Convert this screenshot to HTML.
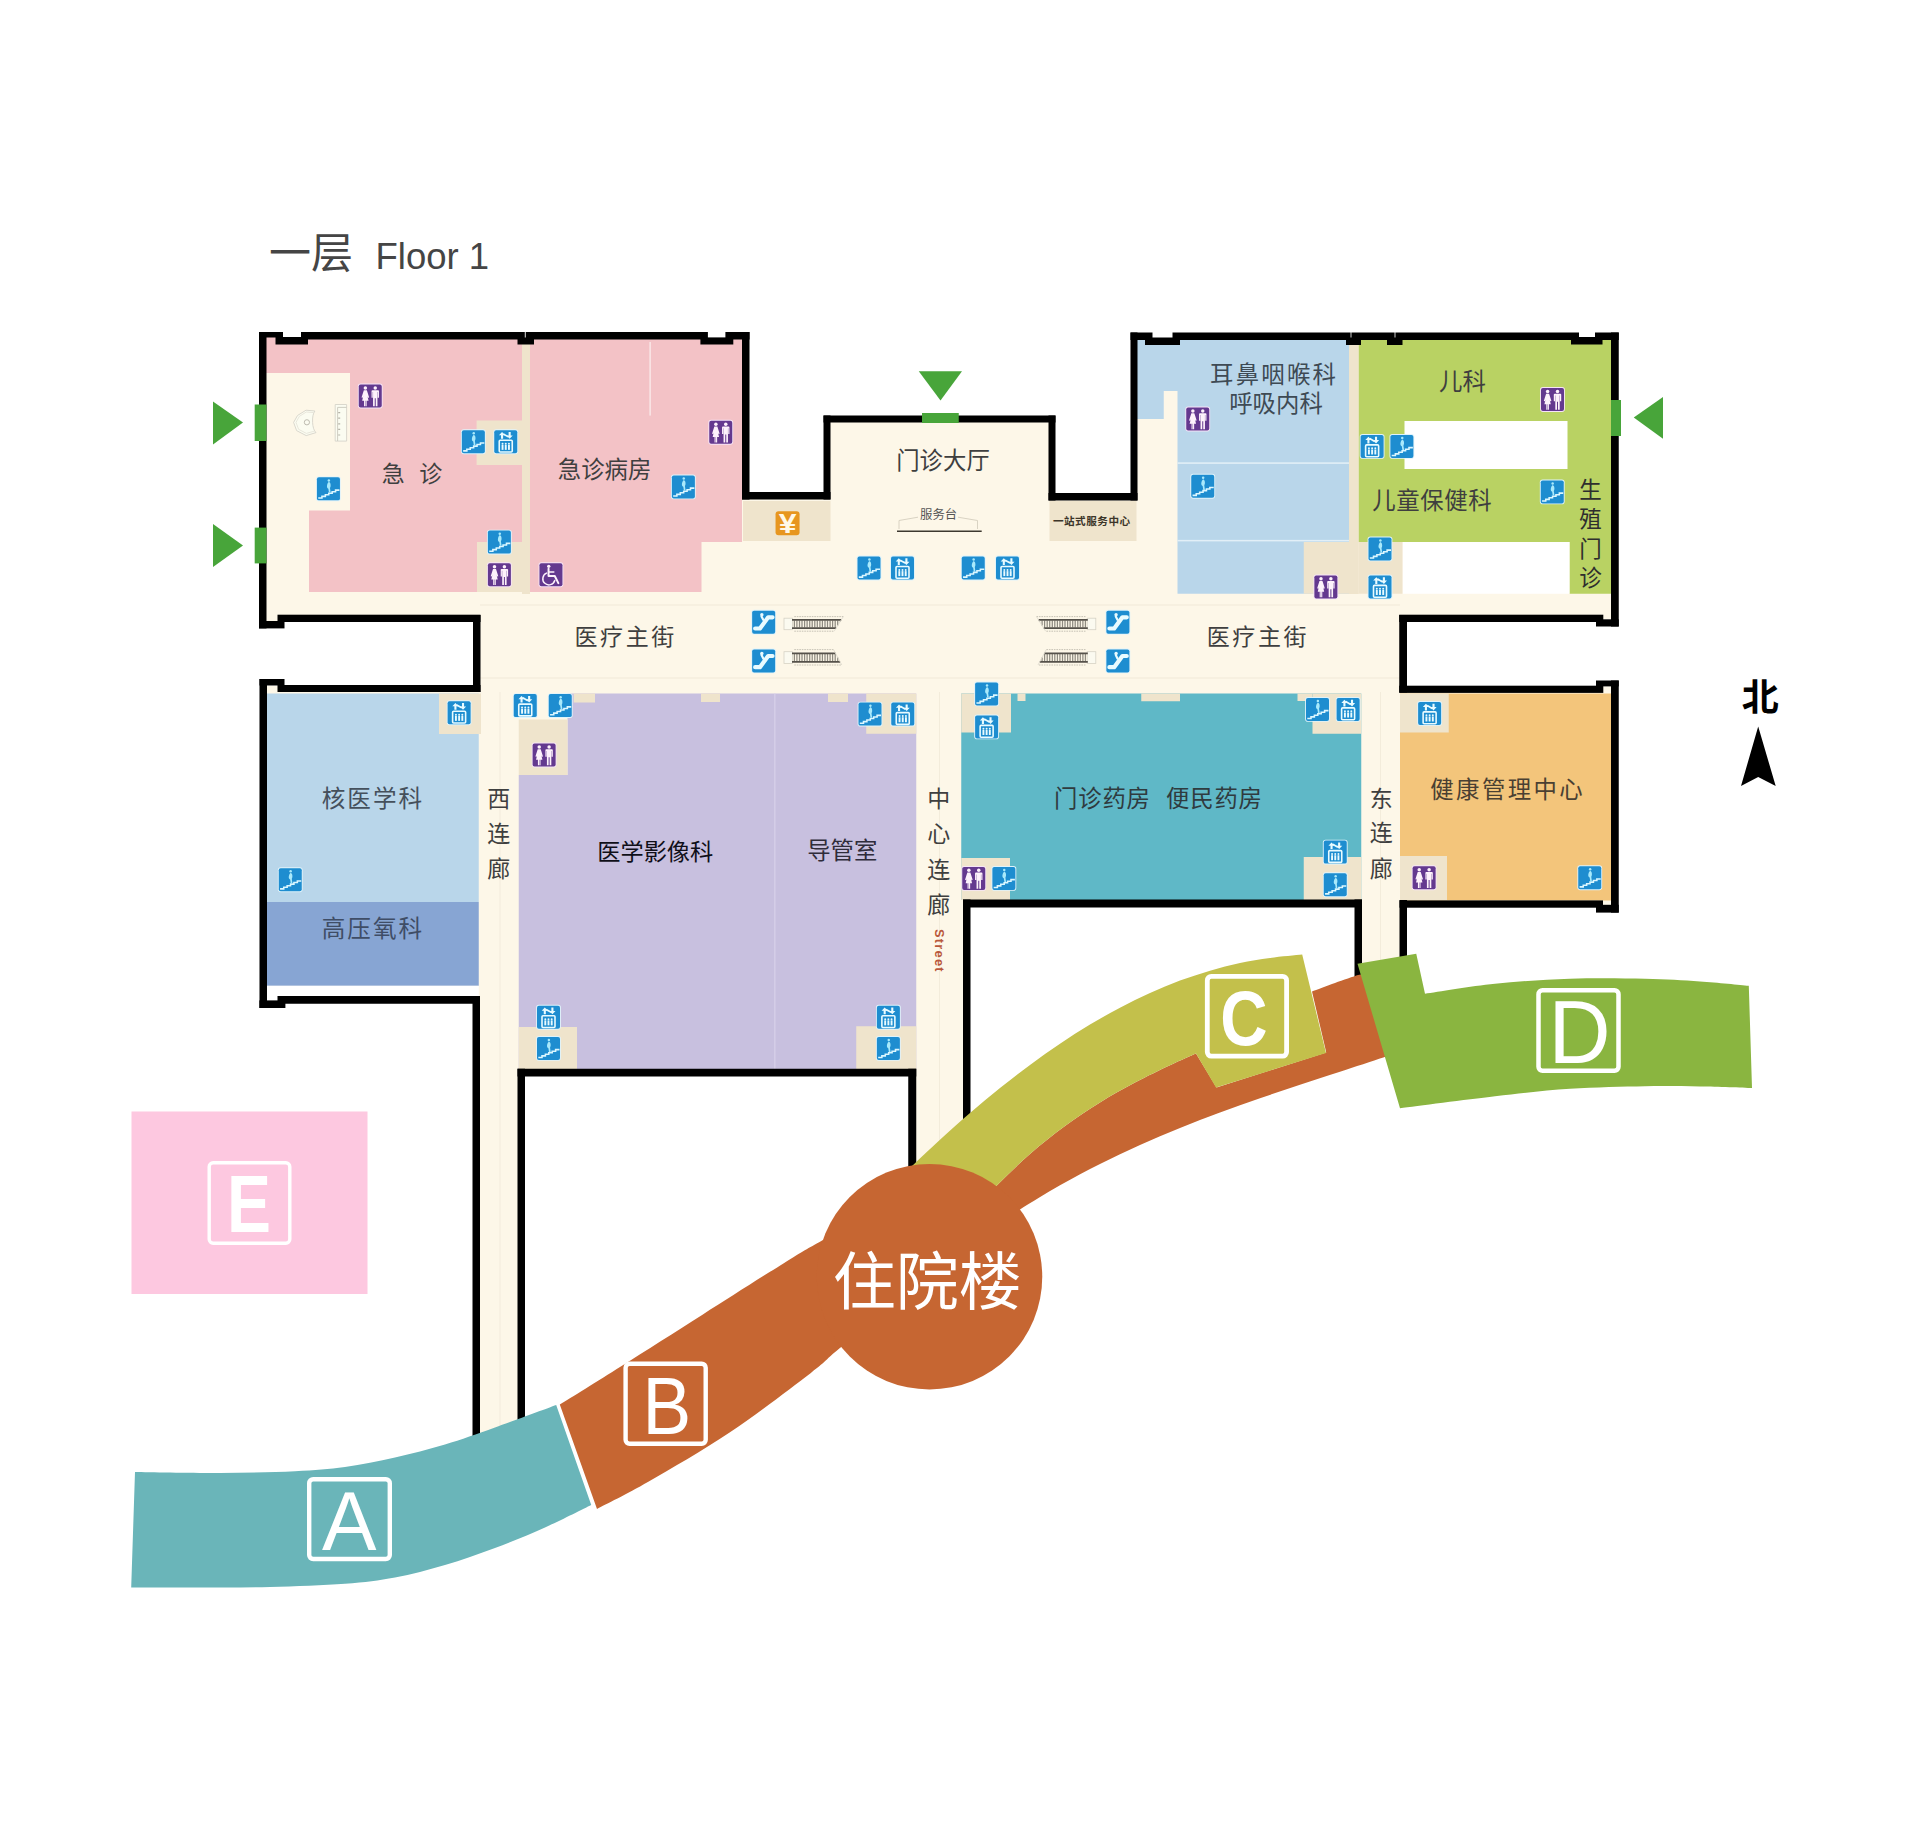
<!DOCTYPE html>
<html lang="zh-CN">
<head>
<meta charset="utf-8">
<title>一层 Floor 1</title>
<style>
html,body{margin:0;padding:0;background:#fff;}
body{width:1920px;height:1841px;overflow:hidden;font-family:"Liberation Sans","Noto Sans CJK SC",sans-serif;}
svg{display:block;}
</style>
</head>
<body>
<svg width="1920" height="1841" viewBox="0 0 1920 1841">
<rect width="1920" height="1841" fill="#fff"/>
<g id="floor">
<rect x="262" y="336" width="484" height="285.5" fill="#fdf7e8" />
<rect x="476" y="596" width="928" height="100" fill="#fdf7e8" />
<rect x="746" y="496" width="388" height="104" fill="#fdf7e8" />
<rect x="827" y="419" width="225" height="81" fill="#fdf7e8" />
<rect x="1134" y="336" width="481" height="283" fill="#fdf7e8" />
<rect x="262" y="686" width="214" height="314" fill="#fdf7e8" />
<rect x="476" y="689" width="45" height="745" fill="#fdf7e8" />
<rect x="521" y="689" width="395" height="383" fill="#fdf7e8" />
<rect x="912" y="689" width="54" height="477" fill="#fdf7e8" />
<rect x="961" y="689" width="401" height="214" fill="#fdf7e8" />
<rect x="1358" y="689" width="45" height="277" fill="#fdf7e8" />
<rect x="1400" y="686.4" width="215" height="218.6" fill="#fdf7e8" />
</g>
<g id="rooms">
<polygon points="266,336.5 522,336.5 522,592 309,592 309,510.5 350,510.5 350,373 266,373" fill="#f3c2c6" />
<rect x="522" y="343" width="8" height="251" fill="#efe4cc" />
<polygon points="530,339 742,339 742,542 701.5,542 701.5,592 530,592" fill="#f3c2c6" />
<rect x="649.5" y="342" width="1.2" height="73.6" fill="#fbeff0" />
<rect x="476.6" y="420.5" width="45.4" height="44.5" fill="#efe4cc" />
<rect x="477" y="542" width="45" height="50" fill="#efe4cc" />
<rect x="743" y="501" width="87.5" height="40" fill="#efe4cc" />
<rect x="1049.5" y="501" width="87" height="40" fill="#efe4cc" />
<polygon points="1137,339 1349,339 1349,593.75 1177.5,593.75 1177.5,391 1163.75,391 1163.75,419 1137,419" fill="#b9d6ea" />
<rect x="1177.5" y="462.3" width="171.5" height="1.6" fill="#e2eff7" />
<rect x="1177.5" y="539.9" width="171.5" height="1.5" fill="#e2eff7" />
<rect x="1303.75" y="542" width="45.25" height="51.75" fill="#efe4cc" />
<rect x="1349" y="343" width="9.75" height="251" fill="#efe4cc" />
<polygon points="1358.75,339 1612,339 1612,593.75 1569.5,593.75 1569.5,542 1358.75,542" fill="#b9d263" />
<rect x="1404.5" y="421" width="163" height="48" fill="#ffffff" />
<rect x="1402.5" y="542" width="167" height="51.75" fill="#ffffff" />
<rect x="1358.75" y="542" width="43.75" height="51.75" fill="#efe4cc" />
<rect x="266" y="693.5" width="212.75" height="208.5" fill="#b9d6ea" />
<rect x="266" y="902" width="212.75" height="83.8" fill="#87a5d3" />
<rect x="266" y="985.8" width="212.75" height="14.6" fill="#ffffff" />
<rect x="439" y="693.5" width="42" height="40.5" fill="#efe4cc" />
<polygon points="567.5,693.5 916.25,693.5 916.25,1069 518.75,1069 518.75,775 567.5,775" fill="#c8c0df" />
<rect x="518.75" y="719.5" width="48.75" height="55.5" fill="#efe4cc" />
<rect x="573.75" y="693.5" width="21.25" height="9" fill="#efe4cc" />
<rect x="701" y="693.5" width="19" height="8.5" fill="#efe4cc" />
<rect x="828" y="693.5" width="20" height="8.5" fill="#efe4cc" />
<rect x="866.25" y="693.5" width="50" height="40.25" fill="#efe4cc" />
<rect x="518.75" y="1027" width="58.25" height="42" fill="#efe4cc" />
<rect x="856.25" y="1026.25" width="60" height="42.75" fill="#efe4cc" />
<rect x="774.3" y="693.5" width="1.1" height="375.5" fill="#d9d3ea" />
<rect x="961.25" y="693.5" width="400" height="206.5" fill="#5fb8c7" />
<rect x="961.25" y="693.5" width="49.75" height="39" fill="#efe4cc" />
<rect x="961.25" y="858" width="48.75" height="42" fill="#efe4cc" />
<rect x="1312.5" y="693.5" width="48.75" height="40.25" fill="#efe4cc" />
<rect x="1303.75" y="857" width="57.5" height="43" fill="#efe4cc" />
<rect x="1017.5" y="693.5" width="8" height="7.5" fill="#efe4cc" />
<rect x="1141.25" y="693.5" width="38.75" height="7.75" fill="#efe4cc" />
<rect x="1297.5" y="693.5" width="15" height="7.5" fill="#efe4cc" />
<rect x="1400" y="693.5" width="212" height="207" fill="#f3c57b" />
<rect x="1400" y="693.5" width="48.75" height="39" fill="#efe4cc" />
<rect x="1400" y="856" width="47" height="44" fill="#efe4cc" />
</g>
<g id="lines">
<rect x="480" y="604.4" width="920" height="1.2" fill="#f3ecdb" />
<rect x="480" y="677.4" width="920" height="1.2" fill="#f3ecdb" />
<rect x="499.5" y="692" width="1" height="740" fill="#f3ecdb" />
<rect x="939" y="692" width="1" height="473" fill="#f3ecdb" />
<rect x="1380" y="692" width="1" height="270" fill="#f3ecdb" />
</g>
<g id="walls" fill="#000">
<rect x="259" y="332" width="7.5" height="296.4"/>
<rect x="259" y="332" width="24" height="5.5"/>
<rect x="275.5" y="337" width="32.5" height="7.5"/>
<rect x="301" y="332" width="448.5" height="7.5"/>
<rect x="517.5" y="337" width="16.5" height="7.5"/>
<rect x="700.4" y="337" width="32.9" height="7.5"/>
<rect x="742" y="332" width="7.5" height="167.5"/>
<rect x="742" y="492" width="88.5" height="7.5"/>
<rect x="823.5" y="415.5" width="7" height="84"/>
<rect x="823.5" y="415.5" width="232" height="7"/>
<rect x="1048.5" y="415.5" width="7" height="85"/>
<rect x="1048.5" y="493" width="89" height="7.5"/>
<rect x="1130.5" y="332.5" width="7" height="168"/>
<rect x="1130.5" y="332.5" width="488.25" height="7.5"/>
<rect x="1145" y="337" width="35" height="8"/>
<rect x="1346" y="337" width="15" height="8"/>
<rect x="1387" y="337" width="15.5" height="8"/>
<rect x="1571" y="337" width="31.5" height="7.5"/>
<rect x="1611" y="332.5" width="7.75" height="294"/>
<rect x="1399.25" y="614.7" width="204.05" height="7.3"/>
<rect x="1596" y="619.3" width="22.75" height="7.2"/>
<rect x="1399.25" y="615" width="7.75" height="77.5"/>
<rect x="1399.25" y="685.7" width="204.05" height="7.2"/>
<rect x="1611" y="680.5" width="7.75" height="232.1"/>
<rect x="1596" y="680.5" width="22.75" height="5.9"/>
<rect x="1399.5" y="900.4" width="203.5" height="7.3"/>
<rect x="1596" y="904.8" width="22.75" height="7.8"/>
<rect x="1399.5" y="900" width="7.5" height="58"/>
<rect x="1354.5" y="899.5" width="7.5" height="78.5"/>
<rect x="963" y="899.5" width="399" height="8"/>
<rect x="963" y="899.5" width="7.5" height="225.5"/>
<rect x="908.25" y="1068.75" width="8" height="101.25"/>
<rect x="517.5" y="1068.75" width="398.75" height="7.75"/>
<rect x="517.5" y="1068.75" width="7.5" height="356.25"/>
<rect x="472.5" y="996" width="7.5" height="444"/>
<rect x="277.5" y="996" width="202.5" height="7.75"/>
<rect x="259.4" y="1000.4" width="26" height="7.6"/>
<rect x="259.5" y="679" width="7.5" height="329"/>
<rect x="259.5" y="679" width="25" height="6.5"/>
<rect x="277.5" y="685" width="203" height="7"/>
<rect x="473" y="615" width="7.5" height="77"/>
<rect x="277.5" y="614.7" width="203" height="7.3"/>
<rect x="259" y="621" width="25.5" height="7.4"/>
</g>
<rect x="283" y="331" width="18" height="6" fill="#fff" />
<rect x="1152.5" y="331" width="20" height="6.5" fill="#fff" />
<rect x="1579" y="331" width="16" height="6" fill="#fff" />
<rect x="707.9" y="331" width="17.5" height="6.4" fill="#fff" />
<rect x="524.8" y="331" width="0.9" height="6.5" fill="#fff" />
<rect x="1350.6" y="331" width="0.8" height="6.5" fill="#fff" />
<rect x="1394.6" y="331" width="0.8" height="6.5" fill="#fff" />
<g id="doors">
<rect x="254.7" y="404.5" width="11.8" height="36.5" fill="#48a53a" />
<rect x="254.7" y="527.6" width="11.8" height="35.8" fill="#48a53a" />
<rect x="922" y="413" width="36.75" height="10" fill="#48a53a" />
<rect x="1611" y="400" width="10" height="36" fill="#48a53a" />
<polygon points="213,401.5 213,444.5 243,422.4" fill="#48a53a" />
<polygon points="213,524 213,567 243,545.5" fill="#48a53a" />
<polygon points="918.75,371.25 962,371.25 940.5,400.5" fill="#48a53a" />
<polygon points="1633.75,417.5 1663,397 1663,438.75" fill="#48a53a" />
</g>
<g id="buildings">
<rect x="131.5" y="1111.5" width="236" height="182.5" fill="#fdc8e0" />
<path d="M135,1472 C149.2,1472.2 193.3,1473.1 220.0,1473.0 C246.7,1472.9 274.2,1472.2 295.0,1471.2 C315.8,1470.2 328.3,1469.3 345.0,1467.0 C361.7,1464.7 378.3,1461.2 395.0,1457.5 C411.7,1453.8 428.3,1449.5 445.0,1444.5 C461.7,1439.5 476.5,1434.1 495.0,1427.5 C513.5,1420.9 546.0,1408.8 556.2,1405.0 L591.25,1505 C583.5,1508.8 561.0,1520.3 545.0,1527.5 C529.0,1534.7 511.7,1541.8 495.0,1548.0 C478.3,1554.2 461.7,1560.1 445.0,1565.0 C428.3,1569.9 411.7,1574.4 395.0,1577.5 C378.3,1580.6 365.8,1582.2 345.0,1583.8 C324.2,1585.3 295.0,1586.4 270.0,1587.0 C245.0,1587.6 218.1,1587.4 195.0,1587.5 C171.9,1587.6 141.9,1587.5 131.2,1587.5 Z" fill="#6ab5b9"/>
<path d="M960,1227.1 C966.0,1220.3 984.1,1198.8 995.8,1186.6 C1007.5,1174.4 1018.5,1164.2 1030.0,1154.1 C1041.5,1144.0 1053.3,1134.7 1065.0,1126.1 C1076.7,1117.5 1088.3,1109.8 1100.0,1102.5 C1111.7,1095.2 1123.3,1088.8 1135.0,1082.6 C1146.7,1076.4 1159.8,1070.1 1170.0,1065.3 C1180.2,1060.5 1191.7,1055.5 1196.0,1053.6 L1216.5,1087.5 L1326.25,1052.5 L1312,991.5 C1315.8,990.1 1327.3,985.7 1335.0,983.0 C1342.7,980.3 1354.2,976.4 1358.0,975.1 L1375,972 L1400,1051.7 C1397.2,1052.7 1393.3,1054.1 1383.3,1057.4 C1373.3,1060.7 1353.9,1067.1 1340.0,1071.7 C1326.1,1076.3 1313.3,1080.4 1300.0,1084.8 C1286.7,1089.2 1273.3,1093.7 1260.0,1098.3 C1246.7,1102.9 1233.3,1107.6 1220.0,1112.5 C1206.7,1117.4 1193.3,1122.5 1180.0,1127.9 C1166.7,1133.3 1153.3,1138.9 1140.0,1144.9 C1126.7,1150.9 1113.3,1157.2 1100.0,1163.9 C1086.7,1170.6 1073.5,1177.6 1060.0,1185.3 C1046.5,1193.0 1030.9,1202.6 1019.2,1210.0 C1007.5,1217.4 1001.5,1221.4 990.0,1229.7 C978.5,1238.0 956.7,1254.7 950.0,1259.7 Z" fill="#c66632"/>
<path d="M912.0,1166.0 C916.7,1161.6 930.3,1148.6 940.0,1139.8 C949.7,1131.0 960.0,1121.7 970.0,1113.1 C980.0,1104.5 990.0,1096.1 1000.0,1088.1 C1010.0,1080.1 1020.0,1072.3 1030.0,1064.9 C1040.0,1057.5 1050.0,1050.4 1060.0,1043.7 C1070.0,1037.0 1080.0,1030.6 1090.0,1024.6 C1100.0,1018.6 1110.0,1013.0 1120.0,1007.7 C1130.0,1002.4 1140.0,997.5 1150.0,993.0 C1160.0,988.5 1170.0,984.3 1180.0,980.6 C1190.0,976.9 1200.0,973.6 1210.0,970.7 C1220.0,967.8 1230.0,965.2 1240.0,963.1 C1250.0,961.0 1259.6,959.4 1270.0,958.0 C1280.4,956.6 1296.8,955.2 1302.2,954.6 L1326,1053 L1216,1087.4 L1196.0,1053.6 C1191.7,1055.5 1180.2,1060.5 1170.0,1065.3 C1159.8,1070.1 1146.7,1076.4 1135.0,1082.6 C1123.3,1088.8 1111.7,1095.2 1100.0,1102.5 C1088.3,1109.8 1076.7,1117.5 1065.0,1126.1 C1053.3,1134.7 1041.5,1144.0 1030.0,1154.1 C1018.5,1164.2 1007.5,1174.4 995.8,1186.6 C984.1,1198.8 966.0,1220.3 960.0,1227.1 L900,1230 Z" fill="#c3c04b"/>
<path d="M559.8,1404.6 C570.0,1398.2 597.5,1381.2 621.2,1366.2 C645.0,1351.2 675.4,1331.9 702.5,1314.7 C729.6,1297.5 763.9,1275.5 783.8,1263.2 C803.7,1250.9 807.3,1248.8 821.7,1240.8 C836.1,1232.7 862.0,1219.3 870.0,1215.0 L900,1300 C889.9,1308.1 854.1,1336.4 839.3,1348.6 C824.4,1360.8 829.2,1358.9 810.9,1372.9 C792.6,1386.9 756.7,1414.3 729.6,1432.5 C702.5,1450.7 670.4,1469.0 648.3,1481.8 C626.2,1494.5 605.5,1504.5 597.0,1509.0 Z" fill="#c66632"/>
<circle cx="929.5" cy="1276.75" r="112.75" fill="#c66632"/>
<path d="M1357.5,963.75 L1416.25,953.75 L1425,993.75 C1436.7,992.1 1470.8,986.2 1495.0,983.8 C1519.2,981.2 1545.0,979.6 1570.0,978.8 C1595.0,977.9 1623.3,978.3 1645.0,978.8 C1666.7,979.2 1682.7,980.3 1700.0,981.5 C1717.3,982.7 1740.6,985.0 1748.8,985.8 L1752,1088 C1743.3,1087.8 1717.8,1086.8 1700.0,1086.5 C1682.2,1086.2 1666.7,1085.9 1645.0,1086.2 C1623.3,1086.6 1595.0,1087.1 1570.0,1088.8 C1545.0,1090.4 1523.3,1093.0 1495.0,1096.2 C1466.7,1099.5 1415.8,1106.2 1400.0,1108.2 Z" fill="#8ab540"/>
</g>
<g id="letters" font-family="'Liberation Sans', sans-serif">
<rect x="209.2" y="1162.7" width="80.6" height="80.6" rx="4" ry="4" fill="none" stroke="#fff" stroke-width="3.4"/>
<text transform="translate(249,1231.5) scale(0.814,1)" font-size="81" font-weight="700" fill="#fff" text-anchor="middle">E</text>
<rect x="309.2" y="1479.2" width="80.6" height="79.85" rx="4" ry="4" fill="none" stroke="#fff" stroke-width="4.4"/>
<text transform="translate(349.2,1550) scale(0.985,1)" font-size="83" font-weight="400" fill="#fff" text-anchor="middle">A</text>
<rect x="625.6" y="1363.7" width="80.1" height="80.1" rx="4" ry="4" fill="none" stroke="#fff" stroke-width="4.4"/>
<text transform="translate(666.8,1434) scale(0.89,1)" font-size="82" font-weight="400" fill="#fff" text-anchor="middle">B</text>
<rect x="1207.3" y="976.4" width="79.3" height="79.7" rx="4" ry="4" fill="none" stroke="#fff" stroke-width="4.8"/>
<text transform="translate(1243.8,1044.9) scale(0.84,1)" font-size="78" font-weight="700" fill="#fff" text-anchor="middle">C</text>
<rect x="1538.5" y="990.25" width="80" height="80.5" rx="4" ry="4" fill="none" stroke="#fff" stroke-width="4.5"/>
<text transform="translate(1579.5,1062.5) scale(0.966,1)" font-size="89" font-weight="400" fill="#fff" text-anchor="middle">D</text>
</g>
<g id="escalators">
<g><rect x="784" y="618.2" width="8.6" height="11.5" fill="#fbfaf0" stroke="#d6d2c5" stroke-width="0.8"/><path d="M794.4,620.4V627.5M796.9,620.4V627.5M799.5,620.4V627.5M802.0,620.4V627.5M804.6,620.4V627.5M807.1,620.4V627.5M809.7,620.4V627.5M812.2,620.4V627.5M814.8,620.4V627.5M817.3,620.4V627.5M819.9,620.4V627.5M822.4,620.4V627.5M825.0,620.4V627.5M827.5,620.4V627.5M830.1,620.4V627.5M832.6,620.4V627.5M835.2,620.4V627.5M837.7,620.4V625.5M840.3,620.4V621.4" stroke="#8f8b81" stroke-width="1.25" fill="none"/><path d="M792,619.8H841.3M792,628.1H836.1" stroke="#55514a" stroke-width="1.7" fill="none"/><path d="M794.3,616.6H843.3M794.3,631.2H834.2" stroke="#b9b5a8" stroke-width="0.8" stroke-dasharray="1.6 0.9" fill="none"/><path d="M843.3,616.6L834.2,631.2" stroke="#dcd8cc" stroke-width="0.8" fill="none"/><rect x="784" y="651.7" width="8.6" height="11.7" fill="#fbfaf0" stroke="#d6d2c5" stroke-width="0.8"/><path d="M794.4,653.9V661.2M796.9,653.9V661.2M799.5,653.9V661.2M802.0,653.9V661.2M804.6,653.9V661.2M807.1,653.9V661.2M809.7,653.9V661.2M812.2,653.9V661.2M814.8,653.9V661.2M817.3,653.9V661.2M819.9,653.9V661.2M822.4,653.9V661.2M825.0,653.9V661.2M827.5,653.9V661.2M830.1,653.9V661.2M832.6,653.9V661.2M835.2,653.9V661.2M837.7,657.5V661.2" stroke="#8f8b81" stroke-width="1.25" fill="none"/><path d="M792,653.3H835.5M792,661.8H840.1" stroke="#55514a" stroke-width="1.7" fill="none"/><path d="M794.3,649.6H833.5M794.3,665H841.8" stroke="#b9b5a8" stroke-width="0.8" stroke-dasharray="1.6 0.9" fill="none"/><path d="M833.5,649.6L841.8,665" stroke="#dcd8cc" stroke-width="0.8" fill="none"/></g>
<g transform="translate(1879.8,0) scale(-1,1)"><rect x="784" y="618.2" width="8.6" height="11.5" fill="#fbfaf0" stroke="#d6d2c5" stroke-width="0.8"/><path d="M794.4,620.4V627.5M796.9,620.4V627.5M799.5,620.4V627.5M802.0,620.4V627.5M804.6,620.4V627.5M807.1,620.4V627.5M809.7,620.4V627.5M812.2,620.4V627.5M814.8,620.4V627.5M817.3,620.4V627.5M819.9,620.4V627.5M822.4,620.4V627.5M825.0,620.4V627.5M827.5,620.4V627.5M830.1,620.4V627.5M832.6,620.4V627.5M835.2,620.4V627.5M837.7,620.4V625.5M840.3,620.4V621.4" stroke="#8f8b81" stroke-width="1.25" fill="none"/><path d="M792,619.8H841.3M792,628.1H836.1" stroke="#55514a" stroke-width="1.7" fill="none"/><path d="M794.3,616.6H843.3M794.3,631.2H834.2" stroke="#b9b5a8" stroke-width="0.8" stroke-dasharray="1.6 0.9" fill="none"/><path d="M843.3,616.6L834.2,631.2" stroke="#dcd8cc" stroke-width="0.8" fill="none"/><rect x="784" y="651.7" width="8.6" height="11.7" fill="#fbfaf0" stroke="#d6d2c5" stroke-width="0.8"/><path d="M794.4,653.9V661.2M796.9,653.9V661.2M799.5,653.9V661.2M802.0,653.9V661.2M804.6,653.9V661.2M807.1,653.9V661.2M809.7,653.9V661.2M812.2,653.9V661.2M814.8,653.9V661.2M817.3,653.9V661.2M819.9,653.9V661.2M822.4,653.9V661.2M825.0,653.9V661.2M827.5,653.9V661.2M830.1,653.9V661.2M832.6,653.9V661.2M835.2,653.9V661.2M837.7,657.5V661.2" stroke="#8f8b81" stroke-width="1.25" fill="none"/><path d="M792,653.3H835.5M792,661.8H840.1" stroke="#55514a" stroke-width="1.7" fill="none"/><path d="M794.3,649.6H833.5M794.3,665H841.8" stroke="#b9b5a8" stroke-width="0.8" stroke-dasharray="1.6 0.9" fill="none"/><path d="M833.5,649.6L841.8,665" stroke="#dcd8cc" stroke-width="0.8" fill="none"/></g>
</g>
<g id="desk">
<path d="M899,529 V520.5 L918,517.2 M958,517.2 L977.5,520.5 V529" fill="none" stroke="#cfc9b9" stroke-width="0.8"/>
<line x1="897" y1="531.3" x2="981.7" y2="531.3" stroke="#3d382f" stroke-width="1.6"/>
<g fill="#fbfcf1" stroke="#d6d4c9" stroke-width="0.9" stroke-linejoin="round">
<path d="M314.9,411 L306,410.2 L297.5,415.5 L293.6,422.4 L296.6,430.6 L306.2,435.6 L316,432.6 C312,429.5 311.2,415.5 314.9,411 Z"/>
<path d="M313.6,412.6 L306.3,412 L299.3,416.4 L296,422.4 L298.6,429.3 L306.4,433.4 L314.2,431.2" fill="none" stroke="#e3e1d6" stroke-width="0.8"/>
<circle cx="306.9" cy="422.3" r="2.6" stroke="#bdbbb0" stroke-width="1"/>
<rect x="335.2" y="404.5" width="11.4" height="36.6"/>
<path d="M337.6,441 V407.4 H346.6" fill="none" stroke="#c9c7bc"/>
<path d="M339.2,412v1.2M339.2,417.6v1.2M339.2,423.2v1.2M339.2,428.8v1.2M339.2,434.4v1.2" fill="none" stroke="#b5b3a8" stroke-width="2"/>
</g>
</g>
<g id="icons">
<g transform="translate(357.25 383.00)"><rect x="0.6" y="0.6" width="24.8" height="24.8" rx="2.8" fill="#f6e4f7"/><rect x="1.5" y="1.5" width="23" height="23" rx="1.9" fill="#64398f"/><g fill="#fdf2fb"><circle cx="8.1" cy="4.9" r="1.75"/><path d="M6.6,7.2 h3 l2.3,7.2 l-1.1,0.4 l-0.6,-1.6 l1.1,4.6 h-1.9 v5.5 h-1.1 v-5.5 h-0.4 v5.5 h-1.1 v-5.5 h-1.9 l1.1,-4.6 l-0.6,1.6 l-1.1,-0.4 z"/><circle cx="18" cy="4.9" r="1.75"/><path d="M15.2,7.2 h5.6 a0.9,0.9 0 0 1 0.9,0.9 v6.6 h-1.2 v-5.6 h-0.3 v14.2 h-1.7 v-8 h-1 v8 h-1.7 v-14.2 h-0.3 v5.6 h-1.2 v-6.6 a0.9,0.9 0 0 1 0.9,-0.9z"/></g></g>
<g transform="translate(460.35 428.77)"><rect x="0.6" y="0.6" width="24.8" height="24.8" rx="2.8" fill="#dff3fb"/><rect x="1.5" y="1.5" width="23" height="23" rx="1.9" fill="#1e8dd0"/><path d="M2.8,22.1h3.7v-1.6h3.4v-1.6h3.4v-1.55h3.4v-1.55h3.4v-1.55h3.9" fill="none" stroke="#dcf7ff" stroke-width="1.55"/><circle cx="13.4" cy="4.6" r="1.25" fill="#a9e9fb"/><path d="M13.4,6 c1.6,0.6 2,2.8 1.7,4.6 c-0.2,0.9 -0.6,1.4 -0.5,2 l0.6,4.1 h-1.7 l-0.6,-3.9 c-1.2,-0.5 -1.6,-1.7 -1.3,-3.2 c0.3,-1.5 0.8,-2.9 1.8,-3.6z" fill="#a9e9fb"/></g>
<g transform="translate(492.75 428.77)"><rect x="0.6" y="0.6" width="24.8" height="24.8" rx="2.8" fill="#dff3fb"/><rect x="1.5" y="1.5" width="23" height="23" rx="1.9" fill="#1e8dd0"/><path d="M9.3,3.3 l3.1,3.3 h-2.05 v3.4 h-2.1 v-3.4 h-2.05 z M16.9,10 l-3.1,-3.3 h2.05 v-3.4 h2.1 v3.4 h2.05 z" fill="#e9fbff"/><path d="M10.6,5.2 L15.6,8.1" stroke="#e9fbff" stroke-width="1.7" fill="none"/><rect x="6.5" y="11.5" width="13" height="11.8" rx="1" fill="none" stroke="#e9fbff" stroke-width="1.6"/><g fill="#e9fbff"><circle cx="9.8" cy="14.9" r="1"/><rect x="8.85" y="16.1" width="1.9" height="5"/><circle cx="13" cy="14.9" r="1"/><rect x="12.05" y="16.1" width="1.9" height="5"/><circle cx="16.2" cy="14.9" r="1"/><rect x="15.25" y="16.1" width="1.9" height="5"/></g></g>
<g transform="translate(315.45 475.85)"><rect x="0.6" y="0.6" width="24.8" height="24.8" rx="2.8" fill="#dff3fb"/><rect x="1.5" y="1.5" width="23" height="23" rx="1.9" fill="#1e8dd0"/><path d="M2.8,22.1h3.7v-1.6h3.4v-1.6h3.4v-1.55h3.4v-1.55h3.4v-1.55h3.9" fill="none" stroke="#dcf7ff" stroke-width="1.55"/><circle cx="13.4" cy="4.6" r="1.25" fill="#a9e9fb"/><path d="M13.4,6 c1.6,0.6 2,2.8 1.7,4.6 c-0.2,0.9 -0.6,1.4 -0.5,2 l0.6,4.1 h-1.7 l-0.6,-3.9 c-1.2,-0.5 -1.6,-1.7 -1.3,-3.2 c0.3,-1.5 0.8,-2.9 1.8,-3.6z" fill="#a9e9fb"/></g>
<g transform="translate(486.38 529.12)"><rect x="0.6" y="0.6" width="24.8" height="24.8" rx="2.8" fill="#dff3fb"/><rect x="1.5" y="1.5" width="23" height="23" rx="1.9" fill="#1e8dd0"/><path d="M2.8,22.1h3.7v-1.6h3.4v-1.6h3.4v-1.55h3.4v-1.55h3.4v-1.55h3.9" fill="none" stroke="#dcf7ff" stroke-width="1.55"/><circle cx="13.4" cy="4.6" r="1.25" fill="#a9e9fb"/><path d="M13.4,6 c1.6,0.6 2,2.8 1.7,4.6 c-0.2,0.9 -0.6,1.4 -0.5,2 l0.6,4.1 h-1.7 l-0.6,-3.9 c-1.2,-0.5 -1.6,-1.7 -1.3,-3.2 c0.3,-1.5 0.8,-2.9 1.8,-3.6z" fill="#a9e9fb"/></g>
<g transform="translate(486.40 561.75)"><rect x="0.6" y="0.6" width="24.8" height="24.8" rx="2.8" fill="#f6e4f7"/><rect x="1.5" y="1.5" width="23" height="23" rx="1.9" fill="#64398f"/><g fill="#fdf2fb"><circle cx="8.1" cy="4.9" r="1.75"/><path d="M6.6,7.2 h3 l2.3,7.2 l-1.1,0.4 l-0.6,-1.6 l1.1,4.6 h-1.9 v5.5 h-1.1 v-5.5 h-0.4 v5.5 h-1.1 v-5.5 h-1.9 l1.1,-4.6 l-0.6,1.6 l-1.1,-0.4 z"/><circle cx="18" cy="4.9" r="1.75"/><path d="M15.2,7.2 h5.6 a0.9,0.9 0 0 1 0.9,0.9 v6.6 h-1.2 v-5.6 h-0.3 v14.2 h-1.7 v-8 h-1 v8 h-1.7 v-14.2 h-0.3 v5.6 h-1.2 v-6.6 a0.9,0.9 0 0 1 0.9,-0.9z"/></g></g>
<g transform="translate(537.95 561.75)"><rect x="0.6" y="0.6" width="24.8" height="24.8" rx="2.8" fill="#f6e4f7"/><rect x="1.5" y="1.5" width="23" height="23" rx="1.9" fill="#64398f"/><circle cx="10.8" cy="4.6" r="1.7" fill="#fdf2fb"/><path d="M10.6,7 v7.2 h6.2 l3.6,7.2" fill="none" stroke="#fdf2fb" stroke-width="2" stroke-linecap="round" stroke-linejoin="round"/><path d="M11,10.3 h4.8" fill="none" stroke="#fdf2fb" stroke-width="1.6" stroke-linecap="round"/><path d="M8.6,11.4 a6.1,6.1 0 1 0 8.2,7.4" fill="none" stroke="#fdf2fb" stroke-width="1.5" stroke-linecap="round"/></g>
<g transform="translate(707.75 419.25)"><rect x="0.6" y="0.6" width="24.8" height="24.8" rx="2.8" fill="#f6e4f7"/><rect x="1.5" y="1.5" width="23" height="23" rx="1.9" fill="#64398f"/><g fill="#fdf2fb"><circle cx="8.1" cy="4.9" r="1.75"/><path d="M6.6,7.2 h3 l2.3,7.2 l-1.1,0.4 l-0.6,-1.6 l1.1,4.6 h-1.9 v5.5 h-1.1 v-5.5 h-0.4 v5.5 h-1.1 v-5.5 h-1.9 l1.1,-4.6 l-0.6,1.6 l-1.1,-0.4 z"/><circle cx="18" cy="4.9" r="1.75"/><path d="M15.2,7.2 h5.6 a0.9,0.9 0 0 1 0.9,0.9 v6.6 h-1.2 v-5.6 h-0.3 v14.2 h-1.7 v-8 h-1 v8 h-1.7 v-14.2 h-0.3 v5.6 h-1.2 v-6.6 a0.9,0.9 0 0 1 0.9,-0.9z"/></g></g>
<g transform="translate(670.38 473.88)"><rect x="0.6" y="0.6" width="24.8" height="24.8" rx="2.8" fill="#dff3fb"/><rect x="1.5" y="1.5" width="23" height="23" rx="1.9" fill="#1e8dd0"/><path d="M2.8,22.1h3.7v-1.6h3.4v-1.6h3.4v-1.55h3.4v-1.55h3.4v-1.55h3.9" fill="none" stroke="#dcf7ff" stroke-width="1.55"/><circle cx="13.4" cy="4.6" r="1.25" fill="#a9e9fb"/><path d="M13.4,6 c1.6,0.6 2,2.8 1.7,4.6 c-0.2,0.9 -0.6,1.4 -0.5,2 l0.6,4.1 h-1.7 l-0.6,-3.9 c-1.2,-0.5 -1.6,-1.7 -1.3,-3.2 c0.3,-1.5 0.8,-2.9 1.8,-3.6z" fill="#a9e9fb"/></g>
<g transform="translate(774.55 510.20)"><rect x="1" y="1" width="24" height="24" rx="3" fill="#e7961f"/><text transform="translate(13,23.1) scale(1.18,1)" font-size="27" font-weight="700" fill="#fff8e8" text-anchor="middle" font-family="'Liberation Sans', sans-serif">¥</text></g>
<g transform="translate(856.00 555.00)"><rect x="0.6" y="0.6" width="24.8" height="24.8" rx="2.8" fill="#dff3fb"/><rect x="1.5" y="1.5" width="23" height="23" rx="1.9" fill="#1e8dd0"/><path d="M2.8,22.1h3.7v-1.6h3.4v-1.6h3.4v-1.55h3.4v-1.55h3.4v-1.55h3.9" fill="none" stroke="#dcf7ff" stroke-width="1.55"/><circle cx="13.4" cy="4.6" r="1.25" fill="#a9e9fb"/><path d="M13.4,6 c1.6,0.6 2,2.8 1.7,4.6 c-0.2,0.9 -0.6,1.4 -0.5,2 l0.6,4.1 h-1.7 l-0.6,-3.9 c-1.2,-0.5 -1.6,-1.7 -1.3,-3.2 c0.3,-1.5 0.8,-2.9 1.8,-3.6z" fill="#a9e9fb"/></g>
<g transform="translate(889.50 555.00)"><rect x="0.6" y="0.6" width="24.8" height="24.8" rx="2.8" fill="#dff3fb"/><rect x="1.5" y="1.5" width="23" height="23" rx="1.9" fill="#1e8dd0"/><path d="M9.3,3.3 l3.1,3.3 h-2.05 v3.4 h-2.1 v-3.4 h-2.05 z M16.9,10 l-3.1,-3.3 h2.05 v-3.4 h2.1 v3.4 h2.05 z" fill="#e9fbff"/><path d="M10.6,5.2 L15.6,8.1" stroke="#e9fbff" stroke-width="1.7" fill="none"/><rect x="6.5" y="11.5" width="13" height="11.8" rx="1" fill="none" stroke="#e9fbff" stroke-width="1.6"/><g fill="#e9fbff"><circle cx="9.8" cy="14.9" r="1"/><rect x="8.85" y="16.1" width="1.9" height="5"/><circle cx="13" cy="14.9" r="1"/><rect x="12.05" y="16.1" width="1.9" height="5"/><circle cx="16.2" cy="14.9" r="1"/><rect x="15.25" y="16.1" width="1.9" height="5"/></g></g>
<g transform="translate(960.25 555.00)"><rect x="0.6" y="0.6" width="24.8" height="24.8" rx="2.8" fill="#dff3fb"/><rect x="1.5" y="1.5" width="23" height="23" rx="1.9" fill="#1e8dd0"/><path d="M2.8,22.1h3.7v-1.6h3.4v-1.6h3.4v-1.55h3.4v-1.55h3.4v-1.55h3.9" fill="none" stroke="#dcf7ff" stroke-width="1.55"/><circle cx="13.4" cy="4.6" r="1.25" fill="#a9e9fb"/><path d="M13.4,6 c1.6,0.6 2,2.8 1.7,4.6 c-0.2,0.9 -0.6,1.4 -0.5,2 l0.6,4.1 h-1.7 l-0.6,-3.9 c-1.2,-0.5 -1.6,-1.7 -1.3,-3.2 c0.3,-1.5 0.8,-2.9 1.8,-3.6z" fill="#a9e9fb"/></g>
<g transform="translate(994.50 555.00)"><rect x="0.6" y="0.6" width="24.8" height="24.8" rx="2.8" fill="#dff3fb"/><rect x="1.5" y="1.5" width="23" height="23" rx="1.9" fill="#1e8dd0"/><path d="M9.3,3.3 l3.1,3.3 h-2.05 v3.4 h-2.1 v-3.4 h-2.05 z M16.9,10 l-3.1,-3.3 h2.05 v-3.4 h2.1 v3.4 h2.05 z" fill="#e9fbff"/><path d="M10.6,5.2 L15.6,8.1" stroke="#e9fbff" stroke-width="1.7" fill="none"/><rect x="6.5" y="11.5" width="13" height="11.8" rx="1" fill="none" stroke="#e9fbff" stroke-width="1.6"/><g fill="#e9fbff"><circle cx="9.8" cy="14.9" r="1"/><rect x="8.85" y="16.1" width="1.9" height="5"/><circle cx="13" cy="14.9" r="1"/><rect x="12.05" y="16.1" width="1.9" height="5"/><circle cx="16.2" cy="14.9" r="1"/><rect x="15.25" y="16.1" width="1.9" height="5"/></g></g>
<g transform="translate(750.65 609.20)"><rect x="0.6" y="0.6" width="24.8" height="24.8" rx="2.8" fill="#dff3fb"/><rect x="1.5" y="1.5" width="23" height="23" rx="1.9" fill="#1e8dd0"/><path d="M4.5,19.3 h4.8 l8.2,-11.2 h4.4" fill="none" stroke="#e9fbff" stroke-width="4.2" stroke-linecap="round" stroke-linejoin="round"/><circle cx="11.2" cy="5.6" r="1.7" fill="#e9fbff"/><path d="M10.9,7.2 l1.7,3.4" stroke="#e9fbff" stroke-width="2.2" stroke-linecap="round"/></g>
<g transform="translate(750.65 647.90)"><rect x="0.6" y="0.6" width="24.8" height="24.8" rx="2.8" fill="#dff3fb"/><rect x="1.5" y="1.5" width="23" height="23" rx="1.9" fill="#1e8dd0"/><path d="M4.5,19.3 h4.8 l8.2,-11.2 h4.4" fill="none" stroke="#e9fbff" stroke-width="4.2" stroke-linecap="round" stroke-linejoin="round"/><circle cx="11.2" cy="5.6" r="1.7" fill="#e9fbff"/><path d="M10.9,7.2 l1.7,3.4" stroke="#e9fbff" stroke-width="2.2" stroke-linecap="round"/></g>
<g transform="translate(1104.88 609.20)"><rect x="0.6" y="0.6" width="24.8" height="24.8" rx="2.8" fill="#dff3fb"/><rect x="1.5" y="1.5" width="23" height="23" rx="1.9" fill="#1e8dd0"/><path d="M4.5,19.3 h4.8 l8.2,-11.2 h4.4" fill="none" stroke="#e9fbff" stroke-width="4.2" stroke-linecap="round" stroke-linejoin="round"/><circle cx="11.2" cy="5.6" r="1.7" fill="#e9fbff"/><path d="M10.9,7.2 l1.7,3.4" stroke="#e9fbff" stroke-width="2.2" stroke-linecap="round"/></g>
<g transform="translate(1104.88 647.90)"><rect x="0.6" y="0.6" width="24.8" height="24.8" rx="2.8" fill="#dff3fb"/><rect x="1.5" y="1.5" width="23" height="23" rx="1.9" fill="#1e8dd0"/><path d="M4.5,19.3 h4.8 l8.2,-11.2 h4.4" fill="none" stroke="#e9fbff" stroke-width="4.2" stroke-linecap="round" stroke-linejoin="round"/><circle cx="11.2" cy="5.6" r="1.7" fill="#e9fbff"/><path d="M10.9,7.2 l1.7,3.4" stroke="#e9fbff" stroke-width="2.2" stroke-linecap="round"/></g>
<g transform="translate(1184.75 406.00)"><rect x="0.6" y="0.6" width="24.8" height="24.8" rx="2.8" fill="#f6e4f7"/><rect x="1.5" y="1.5" width="23" height="23" rx="1.9" fill="#64398f"/><g fill="#fdf2fb"><circle cx="8.1" cy="4.9" r="1.75"/><path d="M6.6,7.2 h3 l2.3,7.2 l-1.1,0.4 l-0.6,-1.6 l1.1,4.6 h-1.9 v5.5 h-1.1 v-5.5 h-0.4 v5.5 h-1.1 v-5.5 h-1.9 l1.1,-4.6 l-0.6,1.6 l-1.1,-0.4 z"/><circle cx="18" cy="4.9" r="1.75"/><path d="M15.2,7.2 h5.6 a0.9,0.9 0 0 1 0.9,0.9 v6.6 h-1.2 v-5.6 h-0.3 v14.2 h-1.7 v-8 h-1 v8 h-1.7 v-14.2 h-0.3 v5.6 h-1.2 v-6.6 a0.9,0.9 0 0 1 0.9,-0.9z"/></g></g>
<g transform="translate(1189.75 473.25)"><rect x="0.6" y="0.6" width="24.8" height="24.8" rx="2.8" fill="#dff3fb"/><rect x="1.5" y="1.5" width="23" height="23" rx="1.9" fill="#1e8dd0"/><path d="M2.8,22.1h3.7v-1.6h3.4v-1.6h3.4v-1.55h3.4v-1.55h3.4v-1.55h3.9" fill="none" stroke="#dcf7ff" stroke-width="1.55"/><circle cx="13.4" cy="4.6" r="1.25" fill="#a9e9fb"/><path d="M13.4,6 c1.6,0.6 2,2.8 1.7,4.6 c-0.2,0.9 -0.6,1.4 -0.5,2 l0.6,4.1 h-1.7 l-0.6,-3.9 c-1.2,-0.5 -1.6,-1.7 -1.3,-3.2 c0.3,-1.5 0.8,-2.9 1.8,-3.6z" fill="#a9e9fb"/></g>
<g transform="translate(1312.88 573.88)"><rect x="0.6" y="0.6" width="24.8" height="24.8" rx="2.8" fill="#f6e4f7"/><rect x="1.5" y="1.5" width="23" height="23" rx="1.9" fill="#64398f"/><g fill="#fdf2fb"><circle cx="8.1" cy="4.9" r="1.75"/><path d="M6.6,7.2 h3 l2.3,7.2 l-1.1,0.4 l-0.6,-1.6 l1.1,4.6 h-1.9 v5.5 h-1.1 v-5.5 h-0.4 v5.5 h-1.1 v-5.5 h-1.9 l1.1,-4.6 l-0.6,1.6 l-1.1,-0.4 z"/><circle cx="18" cy="4.9" r="1.75"/><path d="M15.2,7.2 h5.6 a0.9,0.9 0 0 1 0.9,0.9 v6.6 h-1.2 v-5.6 h-0.3 v14.2 h-1.7 v-8 h-1 v8 h-1.7 v-14.2 h-0.3 v5.6 h-1.2 v-6.6 a0.9,0.9 0 0 1 0.9,-0.9z"/></g></g>
<g transform="translate(1359.12 433.38)"><rect x="0.6" y="0.6" width="24.8" height="24.8" rx="2.8" fill="#dff3fb"/><rect x="1.5" y="1.5" width="23" height="23" rx="1.9" fill="#1e8dd0"/><path d="M9.3,3.3 l3.1,3.3 h-2.05 v3.4 h-2.1 v-3.4 h-2.05 z M16.9,10 l-3.1,-3.3 h2.05 v-3.4 h2.1 v3.4 h2.05 z" fill="#e9fbff"/><path d="M10.6,5.2 L15.6,8.1" stroke="#e9fbff" stroke-width="1.7" fill="none"/><rect x="6.5" y="11.5" width="13" height="11.8" rx="1" fill="none" stroke="#e9fbff" stroke-width="1.6"/><g fill="#e9fbff"><circle cx="9.8" cy="14.9" r="1"/><rect x="8.85" y="16.1" width="1.9" height="5"/><circle cx="13" cy="14.9" r="1"/><rect x="12.05" y="16.1" width="1.9" height="5"/><circle cx="16.2" cy="14.9" r="1"/><rect x="15.25" y="16.1" width="1.9" height="5"/></g></g>
<g transform="translate(1388.88 433.38)"><rect x="0.6" y="0.6" width="24.8" height="24.8" rx="2.8" fill="#dff3fb"/><rect x="1.5" y="1.5" width="23" height="23" rx="1.9" fill="#1e8dd0"/><path d="M2.8,22.1h3.7v-1.6h3.4v-1.6h3.4v-1.55h3.4v-1.55h3.4v-1.55h3.9" fill="none" stroke="#dcf7ff" stroke-width="1.55"/><circle cx="13.4" cy="4.6" r="1.25" fill="#a9e9fb"/><path d="M13.4,6 c1.6,0.6 2,2.8 1.7,4.6 c-0.2,0.9 -0.6,1.4 -0.5,2 l0.6,4.1 h-1.7 l-0.6,-3.9 c-1.2,-0.5 -1.6,-1.7 -1.3,-3.2 c0.3,-1.5 0.8,-2.9 1.8,-3.6z" fill="#a9e9fb"/></g>
<g transform="translate(1539.50 386.50)"><rect x="0.6" y="0.6" width="24.8" height="24.8" rx="2.8" fill="#f6e4f7"/><rect x="1.5" y="1.5" width="23" height="23" rx="1.9" fill="#64398f"/><g fill="#fdf2fb"><circle cx="8.1" cy="4.9" r="1.75"/><path d="M6.6,7.2 h3 l2.3,7.2 l-1.1,0.4 l-0.6,-1.6 l1.1,4.6 h-1.9 v5.5 h-1.1 v-5.5 h-0.4 v5.5 h-1.1 v-5.5 h-1.9 l1.1,-4.6 l-0.6,1.6 l-1.1,-0.4 z"/><circle cx="18" cy="4.9" r="1.75"/><path d="M15.2,7.2 h5.6 a0.9,0.9 0 0 1 0.9,0.9 v6.6 h-1.2 v-5.6 h-0.3 v14.2 h-1.7 v-8 h-1 v8 h-1.7 v-14.2 h-0.3 v5.6 h-1.2 v-6.6 a0.9,0.9 0 0 1 0.9,-0.9z"/></g></g>
<g transform="translate(1539.25 478.88)"><rect x="0.6" y="0.6" width="24.8" height="24.8" rx="2.8" fill="#dff3fb"/><rect x="1.5" y="1.5" width="23" height="23" rx="1.9" fill="#1e8dd0"/><path d="M2.8,22.1h3.7v-1.6h3.4v-1.6h3.4v-1.55h3.4v-1.55h3.4v-1.55h3.9" fill="none" stroke="#dcf7ff" stroke-width="1.55"/><circle cx="13.4" cy="4.6" r="1.25" fill="#a9e9fb"/><path d="M13.4,6 c1.6,0.6 2,2.8 1.7,4.6 c-0.2,0.9 -0.6,1.4 -0.5,2 l0.6,4.1 h-1.7 l-0.6,-3.9 c-1.2,-0.5 -1.6,-1.7 -1.3,-3.2 c0.3,-1.5 0.8,-2.9 1.8,-3.6z" fill="#a9e9fb"/></g>
<g transform="translate(1367.00 535.88)"><rect x="0.6" y="0.6" width="24.8" height="24.8" rx="2.8" fill="#dff3fb"/><rect x="1.5" y="1.5" width="23" height="23" rx="1.9" fill="#1e8dd0"/><path d="M2.8,22.1h3.7v-1.6h3.4v-1.6h3.4v-1.55h3.4v-1.55h3.4v-1.55h3.9" fill="none" stroke="#dcf7ff" stroke-width="1.55"/><circle cx="13.4" cy="4.6" r="1.25" fill="#a9e9fb"/><path d="M13.4,6 c1.6,0.6 2,2.8 1.7,4.6 c-0.2,0.9 -0.6,1.4 -0.5,2 l0.6,4.1 h-1.7 l-0.6,-3.9 c-1.2,-0.5 -1.6,-1.7 -1.3,-3.2 c0.3,-1.5 0.8,-2.9 1.8,-3.6z" fill="#a9e9fb"/></g>
<g transform="translate(1367.00 573.88)"><rect x="0.6" y="0.6" width="24.8" height="24.8" rx="2.8" fill="#dff3fb"/><rect x="1.5" y="1.5" width="23" height="23" rx="1.9" fill="#1e8dd0"/><path d="M9.3,3.3 l3.1,3.3 h-2.05 v3.4 h-2.1 v-3.4 h-2.05 z M16.9,10 l-3.1,-3.3 h2.05 v-3.4 h2.1 v3.4 h2.05 z" fill="#e9fbff"/><path d="M10.6,5.2 L15.6,8.1" stroke="#e9fbff" stroke-width="1.7" fill="none"/><rect x="6.5" y="11.5" width="13" height="11.8" rx="1" fill="none" stroke="#e9fbff" stroke-width="1.6"/><g fill="#e9fbff"><circle cx="9.8" cy="14.9" r="1"/><rect x="8.85" y="16.1" width="1.9" height="5"/><circle cx="13" cy="14.9" r="1"/><rect x="12.05" y="16.1" width="1.9" height="5"/><circle cx="16.2" cy="14.9" r="1"/><rect x="15.25" y="16.1" width="1.9" height="5"/></g></g>
<g transform="translate(446.12 699.75)"><rect x="0.6" y="0.6" width="24.8" height="24.8" rx="2.8" fill="#dff3fb"/><rect x="1.5" y="1.5" width="23" height="23" rx="1.9" fill="#1e8dd0"/><path d="M9.3,3.3 l3.1,3.3 h-2.05 v3.4 h-2.1 v-3.4 h-2.05 z M16.9,10 l-3.1,-3.3 h2.05 v-3.4 h2.1 v3.4 h2.05 z" fill="#e9fbff"/><path d="M10.6,5.2 L15.6,8.1" stroke="#e9fbff" stroke-width="1.7" fill="none"/><rect x="6.5" y="11.5" width="13" height="11.8" rx="1" fill="none" stroke="#e9fbff" stroke-width="1.6"/><g fill="#e9fbff"><circle cx="9.8" cy="14.9" r="1"/><rect x="8.85" y="16.1" width="1.9" height="5"/><circle cx="13" cy="14.9" r="1"/><rect x="12.05" y="16.1" width="1.9" height="5"/><circle cx="16.2" cy="14.9" r="1"/><rect x="15.25" y="16.1" width="1.9" height="5"/></g></g>
<g transform="translate(277.25 866.75)"><rect x="0.6" y="0.6" width="24.8" height="24.8" rx="2.8" fill="#dff3fb"/><rect x="1.5" y="1.5" width="23" height="23" rx="1.9" fill="#1e8dd0"/><path d="M2.8,22.1h3.7v-1.6h3.4v-1.6h3.4v-1.55h3.4v-1.55h3.4v-1.55h3.9" fill="none" stroke="#dcf7ff" stroke-width="1.55"/><circle cx="13.4" cy="4.6" r="1.25" fill="#a9e9fb"/><path d="M13.4,6 c1.6,0.6 2,2.8 1.7,4.6 c-0.2,0.9 -0.6,1.4 -0.5,2 l0.6,4.1 h-1.7 l-0.6,-3.9 c-1.2,-0.5 -1.6,-1.7 -1.3,-3.2 c0.3,-1.5 0.8,-2.9 1.8,-3.6z" fill="#a9e9fb"/></g>
<g transform="translate(512.25 692.62)"><rect x="0.6" y="0.6" width="24.8" height="24.8" rx="2.8" fill="#dff3fb"/><rect x="1.5" y="1.5" width="23" height="23" rx="1.9" fill="#1e8dd0"/><path d="M9.3,3.3 l3.1,3.3 h-2.05 v3.4 h-2.1 v-3.4 h-2.05 z M16.9,10 l-3.1,-3.3 h2.05 v-3.4 h2.1 v3.4 h2.05 z" fill="#e9fbff"/><path d="M10.6,5.2 L15.6,8.1" stroke="#e9fbff" stroke-width="1.7" fill="none"/><rect x="6.5" y="11.5" width="13" height="11.8" rx="1" fill="none" stroke="#e9fbff" stroke-width="1.6"/><g fill="#e9fbff"><circle cx="9.8" cy="14.9" r="1"/><rect x="8.85" y="16.1" width="1.9" height="5"/><circle cx="13" cy="14.9" r="1"/><rect x="12.05" y="16.1" width="1.9" height="5"/><circle cx="16.2" cy="14.9" r="1"/><rect x="15.25" y="16.1" width="1.9" height="5"/></g></g>
<g transform="translate(547.25 692.62)"><rect x="0.6" y="0.6" width="24.8" height="24.8" rx="2.8" fill="#dff3fb"/><rect x="1.5" y="1.5" width="23" height="23" rx="1.9" fill="#1e8dd0"/><path d="M2.8,22.1h3.7v-1.6h3.4v-1.6h3.4v-1.55h3.4v-1.55h3.4v-1.55h3.9" fill="none" stroke="#dcf7ff" stroke-width="1.55"/><circle cx="13.4" cy="4.6" r="1.25" fill="#a9e9fb"/><path d="M13.4,6 c1.6,0.6 2,2.8 1.7,4.6 c-0.2,0.9 -0.6,1.4 -0.5,2 l0.6,4.1 h-1.7 l-0.6,-3.9 c-1.2,-0.5 -1.6,-1.7 -1.3,-3.2 c0.3,-1.5 0.8,-2.9 1.8,-3.6z" fill="#a9e9fb"/></g>
<g transform="translate(531.12 742.00)"><rect x="0.6" y="0.6" width="24.8" height="24.8" rx="2.8" fill="#f6e4f7"/><rect x="1.5" y="1.5" width="23" height="23" rx="1.9" fill="#64398f"/><g fill="#fdf2fb"><circle cx="8.1" cy="4.9" r="1.75"/><path d="M6.6,7.2 h3 l2.3,7.2 l-1.1,0.4 l-0.6,-1.6 l1.1,4.6 h-1.9 v5.5 h-1.1 v-5.5 h-0.4 v5.5 h-1.1 v-5.5 h-1.9 l1.1,-4.6 l-0.6,1.6 l-1.1,-0.4 z"/><circle cx="18" cy="4.9" r="1.75"/><path d="M15.2,7.2 h5.6 a0.9,0.9 0 0 1 0.9,0.9 v6.6 h-1.2 v-5.6 h-0.3 v14.2 h-1.7 v-8 h-1 v8 h-1.7 v-14.2 h-0.3 v5.6 h-1.2 v-6.6 a0.9,0.9 0 0 1 0.9,-0.9z"/></g></g>
<g transform="translate(535.50 1004.25)"><rect x="0.6" y="0.6" width="24.8" height="24.8" rx="2.8" fill="#dff3fb"/><rect x="1.5" y="1.5" width="23" height="23" rx="1.9" fill="#1e8dd0"/><path d="M9.3,3.3 l3.1,3.3 h-2.05 v3.4 h-2.1 v-3.4 h-2.05 z M16.9,10 l-3.1,-3.3 h2.05 v-3.4 h2.1 v3.4 h2.05 z" fill="#e9fbff"/><path d="M10.6,5.2 L15.6,8.1" stroke="#e9fbff" stroke-width="1.7" fill="none"/><rect x="6.5" y="11.5" width="13" height="11.8" rx="1" fill="none" stroke="#e9fbff" stroke-width="1.6"/><g fill="#e9fbff"><circle cx="9.8" cy="14.9" r="1"/><rect x="8.85" y="16.1" width="1.9" height="5"/><circle cx="13" cy="14.9" r="1"/><rect x="12.05" y="16.1" width="1.9" height="5"/><circle cx="16.2" cy="14.9" r="1"/><rect x="15.25" y="16.1" width="1.9" height="5"/></g></g>
<g transform="translate(535.50 1035.38)"><rect x="0.6" y="0.6" width="24.8" height="24.8" rx="2.8" fill="#dff3fb"/><rect x="1.5" y="1.5" width="23" height="23" rx="1.9" fill="#1e8dd0"/><path d="M2.8,22.1h3.7v-1.6h3.4v-1.6h3.4v-1.55h3.4v-1.55h3.4v-1.55h3.9" fill="none" stroke="#dcf7ff" stroke-width="1.55"/><circle cx="13.4" cy="4.6" r="1.25" fill="#a9e9fb"/><path d="M13.4,6 c1.6,0.6 2,2.8 1.7,4.6 c-0.2,0.9 -0.6,1.4 -0.5,2 l0.6,4.1 h-1.7 l-0.6,-3.9 c-1.2,-0.5 -1.6,-1.7 -1.3,-3.2 c0.3,-1.5 0.8,-2.9 1.8,-3.6z" fill="#a9e9fb"/></g>
<g transform="translate(857.00 701.12)"><rect x="0.6" y="0.6" width="24.8" height="24.8" rx="2.8" fill="#dff3fb"/><rect x="1.5" y="1.5" width="23" height="23" rx="1.9" fill="#1e8dd0"/><path d="M2.8,22.1h3.7v-1.6h3.4v-1.6h3.4v-1.55h3.4v-1.55h3.4v-1.55h3.9" fill="none" stroke="#dcf7ff" stroke-width="1.55"/><circle cx="13.4" cy="4.6" r="1.25" fill="#a9e9fb"/><path d="M13.4,6 c1.6,0.6 2,2.8 1.7,4.6 c-0.2,0.9 -0.6,1.4 -0.5,2 l0.6,4.1 h-1.7 l-0.6,-3.9 c-1.2,-0.5 -1.6,-1.7 -1.3,-3.2 c0.3,-1.5 0.8,-2.9 1.8,-3.6z" fill="#a9e9fb"/></g>
<g transform="translate(889.75 701.12)"><rect x="0.6" y="0.6" width="24.8" height="24.8" rx="2.8" fill="#dff3fb"/><rect x="1.5" y="1.5" width="23" height="23" rx="1.9" fill="#1e8dd0"/><path d="M9.3,3.3 l3.1,3.3 h-2.05 v3.4 h-2.1 v-3.4 h-2.05 z M16.9,10 l-3.1,-3.3 h2.05 v-3.4 h2.1 v3.4 h2.05 z" fill="#e9fbff"/><path d="M10.6,5.2 L15.6,8.1" stroke="#e9fbff" stroke-width="1.7" fill="none"/><rect x="6.5" y="11.5" width="13" height="11.8" rx="1" fill="none" stroke="#e9fbff" stroke-width="1.6"/><g fill="#e9fbff"><circle cx="9.8" cy="14.9" r="1"/><rect x="8.85" y="16.1" width="1.9" height="5"/><circle cx="13" cy="14.9" r="1"/><rect x="12.05" y="16.1" width="1.9" height="5"/><circle cx="16.2" cy="14.9" r="1"/><rect x="15.25" y="16.1" width="1.9" height="5"/></g></g>
<g transform="translate(875.38 1004.25)"><rect x="0.6" y="0.6" width="24.8" height="24.8" rx="2.8" fill="#dff3fb"/><rect x="1.5" y="1.5" width="23" height="23" rx="1.9" fill="#1e8dd0"/><path d="M9.3,3.3 l3.1,3.3 h-2.05 v3.4 h-2.1 v-3.4 h-2.05 z M16.9,10 l-3.1,-3.3 h2.05 v-3.4 h2.1 v3.4 h2.05 z" fill="#e9fbff"/><path d="M10.6,5.2 L15.6,8.1" stroke="#e9fbff" stroke-width="1.7" fill="none"/><rect x="6.5" y="11.5" width="13" height="11.8" rx="1" fill="none" stroke="#e9fbff" stroke-width="1.6"/><g fill="#e9fbff"><circle cx="9.8" cy="14.9" r="1"/><rect x="8.85" y="16.1" width="1.9" height="5"/><circle cx="13" cy="14.9" r="1"/><rect x="12.05" y="16.1" width="1.9" height="5"/><circle cx="16.2" cy="14.9" r="1"/><rect x="15.25" y="16.1" width="1.9" height="5"/></g></g>
<g transform="translate(875.38 1035.38)"><rect x="0.6" y="0.6" width="24.8" height="24.8" rx="2.8" fill="#dff3fb"/><rect x="1.5" y="1.5" width="23" height="23" rx="1.9" fill="#1e8dd0"/><path d="M2.8,22.1h3.7v-1.6h3.4v-1.6h3.4v-1.55h3.4v-1.55h3.4v-1.55h3.9" fill="none" stroke="#dcf7ff" stroke-width="1.55"/><circle cx="13.4" cy="4.6" r="1.25" fill="#a9e9fb"/><path d="M13.4,6 c1.6,0.6 2,2.8 1.7,4.6 c-0.2,0.9 -0.6,1.4 -0.5,2 l0.6,4.1 h-1.7 l-0.6,-3.9 c-1.2,-0.5 -1.6,-1.7 -1.3,-3.2 c0.3,-1.5 0.8,-2.9 1.8,-3.6z" fill="#a9e9fb"/></g>
<g transform="translate(973.62 680.88)"><rect x="0.6" y="0.6" width="24.8" height="24.8" rx="2.8" fill="#dff3fb"/><rect x="1.5" y="1.5" width="23" height="23" rx="1.9" fill="#1e8dd0"/><path d="M2.8,22.1h3.7v-1.6h3.4v-1.6h3.4v-1.55h3.4v-1.55h3.4v-1.55h3.9" fill="none" stroke="#dcf7ff" stroke-width="1.55"/><circle cx="13.4" cy="4.6" r="1.25" fill="#a9e9fb"/><path d="M13.4,6 c1.6,0.6 2,2.8 1.7,4.6 c-0.2,0.9 -0.6,1.4 -0.5,2 l0.6,4.1 h-1.7 l-0.6,-3.9 c-1.2,-0.5 -1.6,-1.7 -1.3,-3.2 c0.3,-1.5 0.8,-2.9 1.8,-3.6z" fill="#a9e9fb"/></g>
<g transform="translate(973.62 713.88)"><rect x="0.6" y="0.6" width="24.8" height="24.8" rx="2.8" fill="#dff3fb"/><rect x="1.5" y="1.5" width="23" height="23" rx="1.9" fill="#1e8dd0"/><path d="M9.3,3.3 l3.1,3.3 h-2.05 v3.4 h-2.1 v-3.4 h-2.05 z M16.9,10 l-3.1,-3.3 h2.05 v-3.4 h2.1 v3.4 h2.05 z" fill="#e9fbff"/><path d="M10.6,5.2 L15.6,8.1" stroke="#e9fbff" stroke-width="1.7" fill="none"/><rect x="6.5" y="11.5" width="13" height="11.8" rx="1" fill="none" stroke="#e9fbff" stroke-width="1.6"/><g fill="#e9fbff"><circle cx="9.8" cy="14.9" r="1"/><rect x="8.85" y="16.1" width="1.9" height="5"/><circle cx="13" cy="14.9" r="1"/><rect x="12.05" y="16.1" width="1.9" height="5"/><circle cx="16.2" cy="14.9" r="1"/><rect x="15.25" y="16.1" width="1.9" height="5"/></g></g>
<g transform="translate(960.75 865.38)"><rect x="0.6" y="0.6" width="24.8" height="24.8" rx="2.8" fill="#f6e4f7"/><rect x="1.5" y="1.5" width="23" height="23" rx="1.9" fill="#64398f"/><g fill="#fdf2fb"><circle cx="8.1" cy="4.9" r="1.75"/><path d="M6.6,7.2 h3 l2.3,7.2 l-1.1,0.4 l-0.6,-1.6 l1.1,4.6 h-1.9 v5.5 h-1.1 v-5.5 h-0.4 v5.5 h-1.1 v-5.5 h-1.9 l1.1,-4.6 l-0.6,1.6 l-1.1,-0.4 z"/><circle cx="18" cy="4.9" r="1.75"/><path d="M15.2,7.2 h5.6 a0.9,0.9 0 0 1 0.9,0.9 v6.6 h-1.2 v-5.6 h-0.3 v14.2 h-1.7 v-8 h-1 v8 h-1.7 v-14.2 h-0.3 v5.6 h-1.2 v-6.6 a0.9,0.9 0 0 1 0.9,-0.9z"/></g></g>
<g transform="translate(990.88 865.38)"><rect x="0.6" y="0.6" width="24.8" height="24.8" rx="2.8" fill="#dff3fb"/><rect x="1.5" y="1.5" width="23" height="23" rx="1.9" fill="#1e8dd0"/><path d="M2.8,22.1h3.7v-1.6h3.4v-1.6h3.4v-1.55h3.4v-1.55h3.4v-1.55h3.9" fill="none" stroke="#dcf7ff" stroke-width="1.55"/><circle cx="13.4" cy="4.6" r="1.25" fill="#a9e9fb"/><path d="M13.4,6 c1.6,0.6 2,2.8 1.7,4.6 c-0.2,0.9 -0.6,1.4 -0.5,2 l0.6,4.1 h-1.7 l-0.6,-3.9 c-1.2,-0.5 -1.6,-1.7 -1.3,-3.2 c0.3,-1.5 0.8,-2.9 1.8,-3.6z" fill="#a9e9fb"/></g>
<g transform="translate(1304.50 696.38)"><rect x="0.6" y="0.6" width="24.8" height="24.8" rx="2.8" fill="#dff3fb"/><rect x="1.5" y="1.5" width="23" height="23" rx="1.9" fill="#1e8dd0"/><path d="M2.8,22.1h3.7v-1.6h3.4v-1.6h3.4v-1.55h3.4v-1.55h3.4v-1.55h3.9" fill="none" stroke="#dcf7ff" stroke-width="1.55"/><circle cx="13.4" cy="4.6" r="1.25" fill="#a9e9fb"/><path d="M13.4,6 c1.6,0.6 2,2.8 1.7,4.6 c-0.2,0.9 -0.6,1.4 -0.5,2 l0.6,4.1 h-1.7 l-0.6,-3.9 c-1.2,-0.5 -1.6,-1.7 -1.3,-3.2 c0.3,-1.5 0.8,-2.9 1.8,-3.6z" fill="#a9e9fb"/></g>
<g transform="translate(1335.12 696.38)"><rect x="0.6" y="0.6" width="24.8" height="24.8" rx="2.8" fill="#dff3fb"/><rect x="1.5" y="1.5" width="23" height="23" rx="1.9" fill="#1e8dd0"/><path d="M9.3,3.3 l3.1,3.3 h-2.05 v3.4 h-2.1 v-3.4 h-2.05 z M16.9,10 l-3.1,-3.3 h2.05 v-3.4 h2.1 v3.4 h2.05 z" fill="#e9fbff"/><path d="M10.6,5.2 L15.6,8.1" stroke="#e9fbff" stroke-width="1.7" fill="none"/><rect x="6.5" y="11.5" width="13" height="11.8" rx="1" fill="none" stroke="#e9fbff" stroke-width="1.6"/><g fill="#e9fbff"><circle cx="9.8" cy="14.9" r="1"/><rect x="8.85" y="16.1" width="1.9" height="5"/><circle cx="13" cy="14.9" r="1"/><rect x="12.05" y="16.1" width="1.9" height="5"/><circle cx="16.2" cy="14.9" r="1"/><rect x="15.25" y="16.1" width="1.9" height="5"/></g></g>
<g transform="translate(1322.25 839.12)"><rect x="0.6" y="0.6" width="24.8" height="24.8" rx="2.8" fill="#dff3fb"/><rect x="1.5" y="1.5" width="23" height="23" rx="1.9" fill="#1e8dd0"/><path d="M9.3,3.3 l3.1,3.3 h-2.05 v3.4 h-2.1 v-3.4 h-2.05 z M16.9,10 l-3.1,-3.3 h2.05 v-3.4 h2.1 v3.4 h2.05 z" fill="#e9fbff"/><path d="M10.6,5.2 L15.6,8.1" stroke="#e9fbff" stroke-width="1.7" fill="none"/><rect x="6.5" y="11.5" width="13" height="11.8" rx="1" fill="none" stroke="#e9fbff" stroke-width="1.6"/><g fill="#e9fbff"><circle cx="9.8" cy="14.9" r="1"/><rect x="8.85" y="16.1" width="1.9" height="5"/><circle cx="13" cy="14.9" r="1"/><rect x="12.05" y="16.1" width="1.9" height="5"/><circle cx="16.2" cy="14.9" r="1"/><rect x="15.25" y="16.1" width="1.9" height="5"/></g></g>
<g transform="translate(1322.25 871.75)"><rect x="0.6" y="0.6" width="24.8" height="24.8" rx="2.8" fill="#dff3fb"/><rect x="1.5" y="1.5" width="23" height="23" rx="1.9" fill="#1e8dd0"/><path d="M2.8,22.1h3.7v-1.6h3.4v-1.6h3.4v-1.55h3.4v-1.55h3.4v-1.55h3.9" fill="none" stroke="#dcf7ff" stroke-width="1.55"/><circle cx="13.4" cy="4.6" r="1.25" fill="#a9e9fb"/><path d="M13.4,6 c1.6,0.6 2,2.8 1.7,4.6 c-0.2,0.9 -0.6,1.4 -0.5,2 l0.6,4.1 h-1.7 l-0.6,-3.9 c-1.2,-0.5 -1.6,-1.7 -1.3,-3.2 c0.3,-1.5 0.8,-2.9 1.8,-3.6z" fill="#a9e9fb"/></g>
<g transform="translate(1416.62 700.38)"><rect x="0.6" y="0.6" width="24.8" height="24.8" rx="2.8" fill="#dff3fb"/><rect x="1.5" y="1.5" width="23" height="23" rx="1.9" fill="#1e8dd0"/><path d="M9.3,3.3 l3.1,3.3 h-2.05 v3.4 h-2.1 v-3.4 h-2.05 z M16.9,10 l-3.1,-3.3 h2.05 v-3.4 h2.1 v3.4 h2.05 z" fill="#e9fbff"/><path d="M10.6,5.2 L15.6,8.1" stroke="#e9fbff" stroke-width="1.7" fill="none"/><rect x="6.5" y="11.5" width="13" height="11.8" rx="1" fill="none" stroke="#e9fbff" stroke-width="1.6"/><g fill="#e9fbff"><circle cx="9.8" cy="14.9" r="1"/><rect x="8.85" y="16.1" width="1.9" height="5"/><circle cx="13" cy="14.9" r="1"/><rect x="12.05" y="16.1" width="1.9" height="5"/><circle cx="16.2" cy="14.9" r="1"/><rect x="15.25" y="16.1" width="1.9" height="5"/></g></g>
<g transform="translate(1411.12 864.75)"><rect x="0.6" y="0.6" width="24.8" height="24.8" rx="2.8" fill="#f6e4f7"/><rect x="1.5" y="1.5" width="23" height="23" rx="1.9" fill="#64398f"/><g fill="#fdf2fb"><circle cx="8.1" cy="4.9" r="1.75"/><path d="M6.6,7.2 h3 l2.3,7.2 l-1.1,0.4 l-0.6,-1.6 l1.1,4.6 h-1.9 v5.5 h-1.1 v-5.5 h-0.4 v5.5 h-1.1 v-5.5 h-1.9 l1.1,-4.6 l-0.6,1.6 l-1.1,-0.4 z"/><circle cx="18" cy="4.9" r="1.75"/><path d="M15.2,7.2 h5.6 a0.9,0.9 0 0 1 0.9,0.9 v6.6 h-1.2 v-5.6 h-0.3 v14.2 h-1.7 v-8 h-1 v8 h-1.7 v-14.2 h-0.3 v5.6 h-1.2 v-6.6 a0.9,0.9 0 0 1 0.9,-0.9z"/></g></g>
<g transform="translate(1576.75 864.75)"><rect x="0.6" y="0.6" width="24.8" height="24.8" rx="2.8" fill="#dff3fb"/><rect x="1.5" y="1.5" width="23" height="23" rx="1.9" fill="#1e8dd0"/><path d="M2.8,22.1h3.7v-1.6h3.4v-1.6h3.4v-1.55h3.4v-1.55h3.4v-1.55h3.9" fill="none" stroke="#dcf7ff" stroke-width="1.55"/><circle cx="13.4" cy="4.6" r="1.25" fill="#a9e9fb"/><path d="M13.4,6 c1.6,0.6 2,2.8 1.7,4.6 c-0.2,0.9 -0.6,1.4 -0.5,2 l0.6,4.1 h-1.7 l-0.6,-3.9 c-1.2,-0.5 -1.6,-1.7 -1.3,-3.2 c0.3,-1.5 0.8,-2.9 1.8,-3.6z" fill="#a9e9fb"/></g>
</g>
<g id="labels" font-family="'Liberation Sans', 'Noto Sans CJK SC', sans-serif">
<text x="311.00" y="267.62" font-size="42" font-weight="400" fill="#454545" text-anchor="middle" >一层</text>
<text x="375.5" y="269" font-size="36.5" fill="#454545">Floor 1</text>
<text x="414.00" y="482.28" font-size="23" font-weight="400" fill="#3f3f3f" text-anchor="middle" letter-spacing="4" >急 诊</text>
<text x="604.60" y="477.82" font-size="23.4" font-weight="400" fill="#3f3f3f" text-anchor="middle" >急诊病房</text>
<text x="943.00" y="468.92" font-size="23.4" font-weight="400" fill="#3f3f3f" text-anchor="middle" >门诊大厅</text>
<text x="938.60" y="519.06" font-size="12.4" font-weight="400" fill="#555" text-anchor="middle" >服务台</text>
<text x="1091.75" y="524.82" font-size="10.6" font-weight="700" fill="#3c3529" text-anchor="middle" letter-spacing="0.5" >一站式服务中心</text>
<text x="1274.10" y="382.62" font-size="23.4" font-weight="400" fill="#3e4a54" text-anchor="middle" letter-spacing="2.2" >耳鼻咽喉科</text>
<text x="1276.00" y="411.82" font-size="23.4" font-weight="400" fill="#3e4a54" text-anchor="middle" >呼吸内科</text>
<text x="1462.50" y="390.42" font-size="23.4" font-weight="400" fill="#3f3f3f" text-anchor="middle" >儿科</text>
<text x="1432.30" y="509.42" font-size="23.4" font-weight="400" fill="#3f3f3f" text-anchor="middle" letter-spacing="0.6" >儿童保健科</text>
<text x="1590.50" y="498.10" font-size="22.5" font-weight="400" fill="#2e2e2e" text-anchor="middle" >生</text>
<text x="1590.50" y="526.85" font-size="22.5" font-weight="400" fill="#2e2e2e" text-anchor="middle" >殖</text>
<text x="1590.50" y="556.85" font-size="22.5" font-weight="400" fill="#2e2e2e" text-anchor="middle" >门</text>
<text x="1590.50" y="585.60" font-size="22.5" font-weight="400" fill="#2e2e2e" text-anchor="middle" >诊</text>
<text x="625.70" y="645.18" font-size="23" font-weight="400" fill="#3f3f3f" text-anchor="middle" letter-spacing="2.6" >医疗主街</text>
<text x="1257.90" y="645.18" font-size="23" font-weight="400" fill="#3f3f3f" text-anchor="middle" letter-spacing="2.6" >医疗主街</text>
<text x="372.90" y="807.25" font-size="23.6" font-weight="400" fill="#45505c" text-anchor="middle" letter-spacing="2" >核医学科</text>
<text x="372.90" y="937.25" font-size="23.6" font-weight="400" fill="#3f4d66" text-anchor="middle" letter-spacing="2" >高压氧科</text>
<text x="498.75" y="807.03" font-size="23" font-weight="400" fill="#3f3f3f" text-anchor="middle" >西</text>
<text x="498.75" y="842.03" font-size="23" font-weight="400" fill="#3f3f3f" text-anchor="middle" >连</text>
<text x="498.75" y="877.03" font-size="23" font-weight="400" fill="#3f3f3f" text-anchor="middle" >廊</text>
<text x="655.25" y="859.65" font-size="23.2" font-weight="400" fill="#0f0f18" text-anchor="middle" >医学影像科</text>
<text x="842.25" y="858.92" font-size="23.4" font-weight="400" fill="#2f2c3a" text-anchor="middle" >导管室</text>
<text x="938.75" y="807.03" font-size="23" font-weight="400" fill="#3f3f3f" text-anchor="middle" >中</text>
<text x="938.75" y="842.03" font-size="23" font-weight="400" fill="#3f3f3f" text-anchor="middle" >心</text>
<text x="938.75" y="878.28" font-size="23" font-weight="400" fill="#3f3f3f" text-anchor="middle" >连</text>
<text x="938.75" y="913.28" font-size="23" font-weight="400" fill="#3f3f3f" text-anchor="middle" >廊</text>
<text transform="translate(934.9,929.0) rotate(90)" font-size="12.8" font-weight="700" fill="#b9573b" letter-spacing="1.25" font-family="'Liberation Sans', sans-serif">Street</text>
<text x="1102.40" y="807.17" font-size="23.4" font-weight="400" fill="#2f3b3f" text-anchor="middle" letter-spacing="0.8" >门诊药房</text>
<text x="1214.40" y="807.17" font-size="23.4" font-weight="400" fill="#2f3b3f" text-anchor="middle" letter-spacing="0.8" >便民药房</text>
<text x="1381.25" y="807.03" font-size="23" font-weight="400" fill="#3f3f3f" text-anchor="middle" >东</text>
<text x="1381.25" y="841.28" font-size="23" font-weight="400" fill="#3f3f3f" text-anchor="middle" >连</text>
<text x="1381.25" y="877.03" font-size="23" font-weight="400" fill="#3f3f3f" text-anchor="middle" >廊</text>
<text x="1507.70" y="797.82" font-size="23.4" font-weight="400" fill="#4a4032" text-anchor="middle" letter-spacing="2.4" >健康管理中心</text>
<text x="1760.30" y="710.82" font-size="37" font-weight="700" fill="#000" text-anchor="middle" >北</text>
<text x="927.30" y="1304.18" font-size="63" font-weight="400" fill="#fff" text-anchor="middle" >住院楼</text>
</g>
<polygon points="1758.2,726.5 1775.7,786 1758.2,777 1741,786" fill="#000" />
</svg>
</body>
</html>
